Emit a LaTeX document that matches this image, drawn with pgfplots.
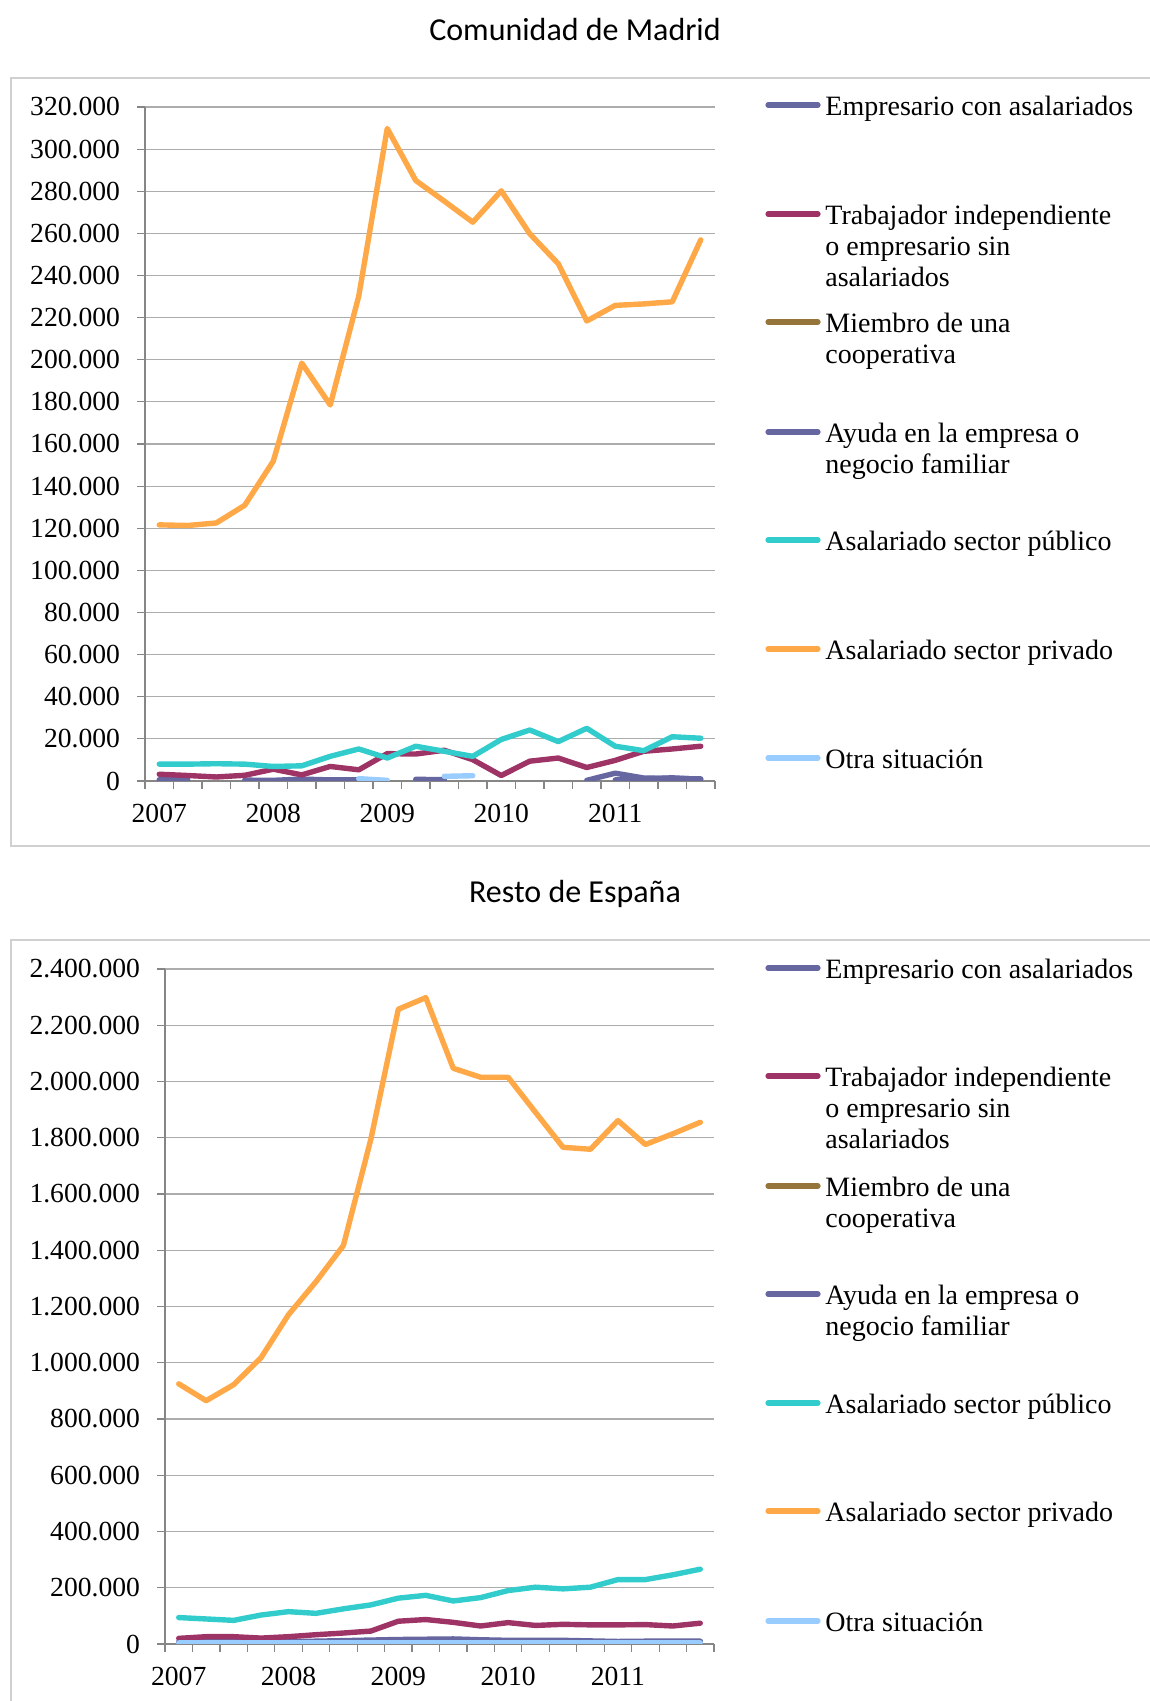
\documentclass[border=0pt]{standalone}
\usepackage{fontspec}
\setmainfont{Liberation Serif}
\newfontfamily\titlefont{Carlito}
\usepackage{pgfplots}
\pgfplotsset{compat=1.18}

\definecolor{empcol}{RGB}{102,102,160}
\definecolor{trabcol}{RGB}{158,52,102}
\definecolor{miemcol}{RGB}{150,117,58}
\definecolor{ayucol}{RGB}{102,102,160}
\definecolor{pubcol}{RGB}{51,204,204}
\definecolor{privcol}{RGB}{255,168,72}
\definecolor{otracol}{RGB}{153,204,255}
\definecolor{axisgray}{RGB}{134,134,134}
\definecolor{gridgray}{RGB}{172,172,172}
\definecolor{framegray}{RGB}{208,208,208}

\newcommand{\legfont}{\fontsize{14}{15.6}\selectfont}

% one legend entry: y of the line, colour, up to three text lines
\newcommand{\legentry}[5]{%
  \draw[line width=2.6pt, line cap=round, #2] (384pt,#1) -- (409pt,#1);
  \node[anchor=base west, inner sep=0, font=\legfont] at (412.5pt,#1-5.2pt) {#3};
  \node[anchor=base west, inner sep=0, font=\legfont] at (412.5pt,#1-20.8pt) {#4};
  \node[anchor=base west, inner sep=0, font=\legfont] at (412.5pt,#1-36.4pt) {#5};
}
\newcommand{\legendblock}[7]{%
  \legentry{#1}{empcol}{Empresario con asalariados}{}{}
  \legentry{#2}{trabcol}{Trabajador independiente}{o empresario sin}{asalariados}
  \legentry{#3}{miemcol}{Miembro de una}{cooperativa}{}
  \legentry{#4}{ayucol}{Ayuda en la empresa o}{negocio familiar}{}
  \legentry{#5}{pubcol}{Asalariado sector público}{}{}
  \legentry{#6}{privcol}{Asalariado sector privado}{}{}
  \legentry{#7}{otracol}{Otra situación}{}{}
}

\pgfplotsset{
  epa/.style={
    scale only axis,
    axis lines=left,
    axis line style={draw=axisgray, line width=0.7pt, -},
    xmin=-0.5, xmax=19.5, ymin=0,
    xtick={0,4,8,12,16},
    xticklabels={2007,2008,2009,2010,2011},
    minor xtick={-0.5,0.5,1.5,2.5,3.5,4.5,5.5,6.5,7.5,8.5,9.5,10.5,11.5,12.5,13.5,14.5,15.5,16.5,17.5,18.5,19.5},
    major x tick style={draw=none},
    minor x tick style={draw=axisgray, line width=0.6pt},
    y tick style={draw=axisgray, line width=0.6pt},
    major tick length=4pt, minor tick length=4pt,
    tick align=outside,
    ymajorgrids,
    grid style={draw=gridgray, line width=0.6pt},
    tick label style={font=\fontsize{13.8}{16}\selectfont},
    yticklabel style={/pgf/number format/fixed, /pgf/number format/1000 sep={.},
      /pgf/number format/assume math mode=true, xshift=-5pt},
    xticklabel style={yshift=-4pt},
    scaled y ticks=false,
    unbounded coords=jump,
    every axis plot/.append style={line width=2.7pt, line join=round, line cap=round},
  }
}

\begin{document}
\begin{tikzpicture}
\useasboundingbox (0,0) rectangle (575pt,850.5pt);

% frames
\draw[framegray, line width=0.8pt] (5.5pt,427.5pt) rectangle (620pt,811.5pt);
\draw[framegray, line width=0.8pt] (5.5pt,-20pt) rectangle (620pt,380.5pt);

% titles
\node[font=\titlefont\fontsize{16}{19}\selectfont] at (287.5pt,835.5pt) {Comunidad de Madrid};
\node[font=\titlefont\fontsize{16}{19}\selectfont] at (287.5pt,403.5pt) {Resto de España};

% ---- Comunidad de Madrid ----
\begin{axis}[epa, at={(72.5pt,460pt)}, anchor=south west,
  width=285pt, height=337pt, ymax=320000,
  ytick={0,20000,40000,60000,80000,100000,120000,140000,160000,180000,200000,220000,240000,260000,280000,300000,320000},
]
\addplot[empcol] coordinates {(0,600)(1,500)(2,nan)(3,400)(4,300)(5,900)(6,500)(7,500)(8,nan)
  (9,800)(10,600)(11,nan)(12,nan)(13,nan)(14,nan)(15,nan)(16,500)(17,1000)(18,1500)(19,800)};
\addplot[trabcol] coordinates {(0,3200)(1,2600)(2,1900)(3,2700)(4,5600)(5,2900)(6,6900)(7,5300)
  (8,13000)(9,12800)(10,14600)(11,10100)(12,2600)(13,9400)(14,10900)(15,6400)(16,9800)
  (17,14100)(18,15200)(19,16500)};
\addplot[ayucol] coordinates {(14,nan)(15,300)(16,3700)(17,1400)(18,1200)(19,1000)};
\addplot[pubcol] coordinates {(0,8000)(1,8000)(2,8200)(3,8000)(4,6900)(5,7200)(6,11700)(7,15200)
  (8,10900)(9,16500)(10,14100)(11,11700)(12,19700)(13,24200)(14,18700)(15,25000)(16,16500)
  (17,14400)(18,21000)(19,20300)};
\addplot[privcol] coordinates {(0,121600)(1,121300)(2,122500)(3,130900)(4,151800)(5,198400)
  (6,178500)(7,230200)(8,309800)(9,285100)(10,275300)(11,265300)(12,280200)(13,259800)
  (14,245600)(15,218400)(16,225800)(17,226500)(18,227500)(19,256900)};
\addplot[otracol] coordinates {(7,1100)(8,300)(9,nan)(10,2200)(11,2500)};
\end{axis}

% ---- Resto de España ----
\begin{axis}[epa, at={(82.5pt,28.5pt)}, anchor=south west,
  width=274.5pt, height=337.5pt, ymax=2400000,
  ytick={0,200000,400000,600000,800000,1000000,1200000,1400000,1600000,1800000,2000000,2200000,2400000},
]
\addplot[empcol] coordinates {(0,8000)(1,8000)(2,8000)(3,8000)(4,9000)(5,10000)(6,12000)(7,14000)
  (8,16000)(9,17000)(10,18000)(11,15000)(12,13000)(13,13000)(14,13000)(15,11000)(16,9000)
  (17,10000)(18,10000)(19,10000)};
\addplot[trabcol] coordinates {(0,20000)(1,26000)(2,26000)(3,21000)(4,26000)(5,33000)(6,39000)
  (7,46000)(8,81000)(9,87000)(10,77000)(11,64000)(12,76000)(13,66000)(14,70000)(15,68000)
  (16,68000)(17,69000)(18,64000)(19,74000)};
\addplot[miemcol] coordinates {(0,1500)(1,1500)(2,1400)(3,1500)(4,1600)(5,1500)(6,1500)(7,1600)
  (8,1700)(9,1600)(10,1500)(11,1500)(12,1400)(13,1500)(14,1400)(15,1300)(16,1300)(17,1400)
  (18,1300)(19,1300)};
\addplot[ayucol] coordinates {(0,2500)(1,2500)(2,2400)(3,2500)(4,2600)(5,2500)(6,2500)(7,2600)
  (8,2700)(9,2600)(10,2500)(11,2500)(12,2400)(13,2500)(14,2400)(15,2300)(16,2300)(17,2400)
  (18,2300)(19,2300)};
\addplot[pubcol] coordinates {(0,94000)(1,89000)(2,84000)(3,103000)(4,115000)(5,109000)(6,125000)
  (7,139000)(8,163000)(9,173000)(10,153000)(11,165000)(12,190000)(13,202000)(14,196000)
  (15,202000)(16,229000)(17,229000)(18,246000)(19,266000)};
\addplot[privcol] coordinates {(0,925000)(1,865000)(2,922000)(3,1018000)(4,1171000)(5,1288000)
  (6,1417000)(7,1795000)(8,2257000)(9,2298000)(10,2047000)(11,2015000)(12,2015000)(13,1890000)
  (14,1766000)(15,1759000)(16,1861000)(17,1776000)(18,1814000)(19,1855000)};
\addplot[otracol] coordinates {(0,4000)(1,4000)(2,4000)(3,4200)(4,4200)(5,4300)(6,4300)(7,4400)
  (8,4500)(9,4500)(10,4400)(11,4400)(12,4300)(13,4300)(14,4200)(15,4200)(16,4200)(17,4100)
  (18,4100)(19,4100)};
\end{axis}

% legends
\legendblock{798pt}{743.5pt}{689.5pt}{634.5pt}{580.5pt}{526pt}{471.5pt}
\legendblock{366.5pt}{312.5pt}{257.5pt}{203.5pt}{149pt}{95pt}{40pt}
\end{tikzpicture}
\end{document}
